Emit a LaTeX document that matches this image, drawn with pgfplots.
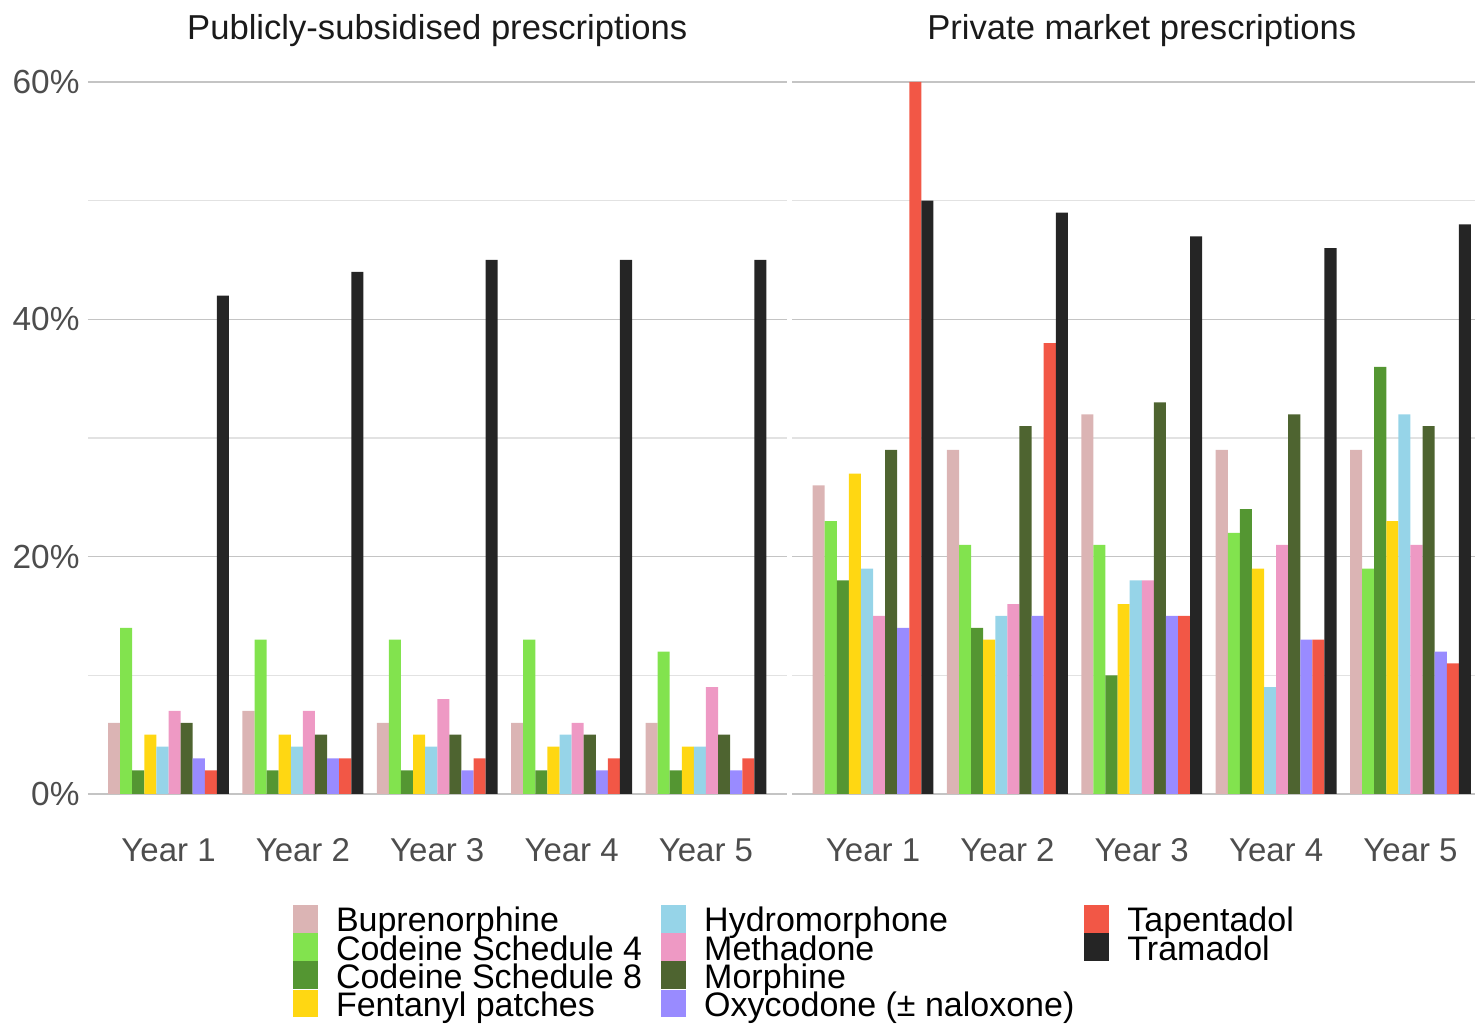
\documentclass[border=0pt]{standalone}
\usepackage{pgfplots}
\pgfplotsset{compat=1.18}
\usepackage{fontspec}
\setmainfont{Liberation Sans}
\definecolor{cBup}{RGB}{219,180,180}
\definecolor{cCodA}{RGB}{130,227,78}
\definecolor{cCodB}{RGB}{84,150,50}
\definecolor{cFent}{RGB}{255,215,18}
\definecolor{cHydro}{RGB}{150,212,232}
\definecolor{cMeth}{RGB}{238,153,196}
\definecolor{cMorph}{RGB}{78,100,48}
\definecolor{cOxy}{RGB}{153,139,255}
\definecolor{cTap}{RGB}{242,87,70}
\definecolor{cTram}{RGB}{37,37,37}
\definecolor{gridmaj}{RGB}{196,196,196}
\definecolor{gridmin}{RGB}{226,226,226}
\definecolor{tickc}{RGB}{77,77,77}
\definecolor{titc}{RGB}{26,26,26}
\begin{document}
\begin{tikzpicture}
\useasboundingbox (0,0) rectangle (737.5pt,513.5pt);
\pgfplotsset{panel/.style={
  scale only axis, width=349.35pt, height=356pt,
  xmin=0.4, xmax=5.6, ymin=0, ymax=60,
  ybar=0pt, bar width=6.046pt,
  xtick={1,2,3,4,5}, xticklabels={Year 1,Year 2,Year 3,Year 4,Year 5},
  ytick={0,20,40,60}, minor ytick={10,30,50},
  ymajorgrids, yminorgrids,
  major grid style={draw=gridmaj, line width=0.7pt},
  minor grid style={draw=gridmin, line width=0.7pt},
  axis line style={draw=none},
  major tick length=0pt, minor tick length=0pt,
  tick style={draw=none},
  xticklabel style={anchor=base, yshift=-33.5pt, inner sep=0pt, font=\fontsize{16.5}{18}\selectfont, text=tickc},
  yticklabel style={anchor=east, inner sep=0pt, xshift=-4pt, font=\fontsize{16.7}{18}\selectfont, text=tickc},
  every axis title/.style={at={(0.5,1)}, anchor=base, yshift=21pt, inner sep=0pt, font=\fontsize{17.3}{20}\selectfont, text=titc},
  every axis plot/.append style={draw=none},
  clip=false,
}}
% Publicly-subsidised
\begin{axis}[panel, at={(43.95pt,116.5pt)}, anchor=south west,
  title={Publicly-subsidised prescriptions},
  yticklabels={0\%,20\%,40\%,60\%}]
\addplot[fill=cBup] coordinates {(1,6) (2,7) (3,6) (4,6) (5,6)};
\addplot[fill=cCodA] coordinates {(1,14) (2,13) (3,13) (4,13) (5,12)};
\addplot[fill=cCodB] coordinates {(1,2) (2,2) (3,2) (4,2) (5,2)};
\addplot[fill=cFent] coordinates {(1,5) (2,5) (3,5) (4,4) (5,4)};
\addplot[fill=cHydro] coordinates {(1,4) (2,4) (3,4) (4,5) (5,4)};
\addplot[fill=cMeth] coordinates {(1,7) (2,7) (3,8) (4,6) (5,9)};
\addplot[fill=cMorph] coordinates {(1,6) (2,5) (3,5) (4,5) (5,5)};
\addplot[fill=cOxy] coordinates {(1,3) (2,3) (3,2) (4,2) (5,2)};
\addplot[fill=cTap] coordinates {(1,2) (2,3) (3,3) (4,3) (5,3)};
\addplot[fill=cTram] coordinates {(1,42) (2,44) (3,45) (4,45) (5,45)};
\end{axis}
% Private market
\begin{axis}[panel, at={(396.2pt,116.5pt)}, anchor=south west,
  title={Private market prescriptions},
  yticklabels={}]
\addplot[fill=cBup] coordinates {(1,26) (2,29) (3,32) (4,29) (5,29)};
\addplot[fill=cCodA] coordinates {(1,23) (2,21) (3,21) (4,22) (5,19)};
\addplot[fill=cCodB] coordinates {(1,18) (2,14) (3,10) (4,24) (5,36)};
\addplot[fill=cFent] coordinates {(1,27) (2,13) (3,16) (4,19) (5,23)};
\addplot[fill=cHydro] coordinates {(1,19) (2,15) (3,18) (4,9) (5,32)};
\addplot[fill=cMeth] coordinates {(1,15) (2,16) (3,18) (4,21) (5,21)};
\addplot[fill=cMorph] coordinates {(1,29) (2,31) (3,33) (4,32) (5,31)};
\addplot[fill=cOxy] coordinates {(1,14) (2,15) (3,15) (4,13) (5,12)};
\addplot[fill=cTap] coordinates {(1,60) (2,38) (3,15) (4,13) (5,11)};
\addplot[fill=cTram] coordinates {(1,50) (2,49) (3,47) (4,46) (5,48)};
\end{axis}
% Legend
\begin{axis}[hide axis, scale only axis, width=10pt, height=10pt,
  xmin=0, xmax=1, ymin=0, ymax=1,
  at={(146.5pt,61pt)}, anchor=north west,
  legend columns=3,
  legend cell align=left,
  legend image code/.code={\fill[#1, draw=none] (0pt,-6.95pt) rectangle (12.5pt,6.95pt);},
  legend style={draw=none, fill=none, inner sep=0pt, outer sep=0pt,
    row sep=0.2pt, at={(0,1)}, anchor=north west,
    font=\fontsize{17}{18}\selectfont,
    nodes={inner sep=0pt, text height=10pt, text depth=0pt, anchor=west, yshift=-1.5pt},
    /tikz/every odd column/.append style={column sep=9pt},
    /tikz/column 2/.append style={column sep=9.5pt},
    /tikz/column 4/.append style={column sep=5pt}},
]
\addlegendimage{fill=cBup, draw=none}\addlegendentry{Buprenorphine}
\addlegendimage{fill=cHydro, draw=none}\addlegendentry{Hydromorphone}
\addlegendimage{fill=cTap, draw=none}\addlegendentry{Tapentadol}
\addlegendimage{fill=cCodA, draw=none}\addlegendentry{Codeine Schedule 4}
\addlegendimage{fill=cMeth, draw=none}\addlegendentry{Methadone}
\addlegendimage{fill=cTram, draw=none}\addlegendentry{Tramadol}
\addlegendimage{fill=cCodB, draw=none}\addlegendentry{Codeine Schedule 8}
\addlegendimage{fill=cMorph, draw=none}\addlegendentry{Morphine}
\addlegendimage{empty legend}\addlegendentry{}
\addlegendimage{fill=cFent, draw=none}\addlegendentry{Fentanyl patches}
\addlegendimage{fill=cOxy, draw=none}\addlegendentry{Oxycodone (± naloxone)}
\addlegendimage{empty legend}\addlegendentry{}
\end{axis}
\end{tikzpicture}
\end{document}
